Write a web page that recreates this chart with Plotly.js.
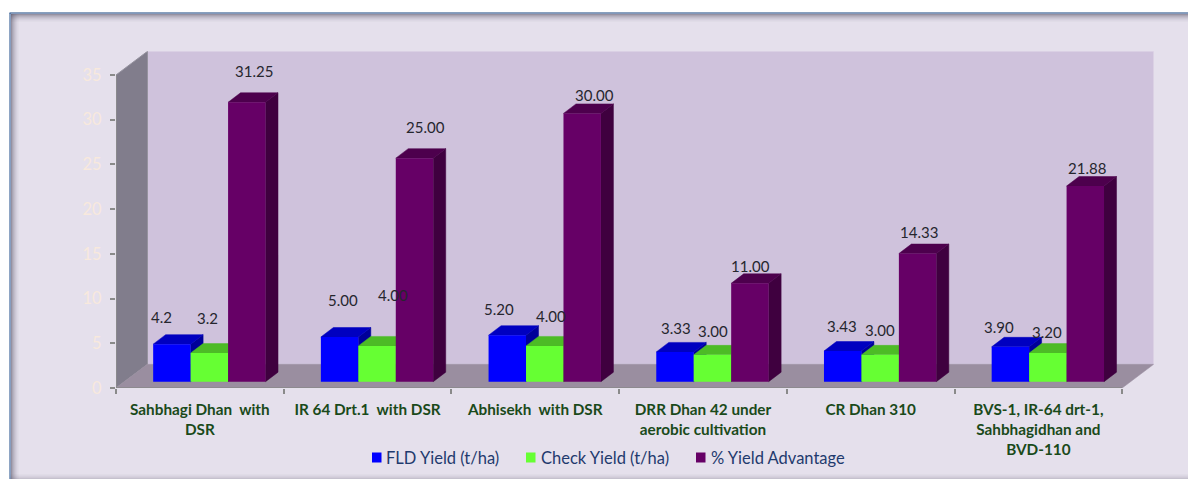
<!DOCTYPE html>
<html>
<head>
<meta charset="utf-8">
<script src="https://cdn.plot.ly/plotly-3.0.1.min.js"></script>
<style>html,body{margin:0;padding:0;background:#fff}#chart{width:1188px;height:479px}</style>
</head>
<body>
<div id="chart"></div>
<script>
// Front-line demonstration results for direct-seeded rice varieties
const categories = [
  'Sahbhagi Dhan\u00a0\u00a0with<br>DSR',
  'IR 64 Drt.1\u00a0\u00a0with DSR',
  'Abhisekh\u00a0\u00a0with DSR',
  'DRR Dhan 42 under<br>aerobic cultivation',
  'CR Dhan 310',
  'BVS-1, IR-64 drt-1,<br>Sahbhagidhan and<br>BVD-110'
];
const fldYield = [4.2, 5.0, 5.2, 3.33, 3.43, 3.9];
const checkYield = [3.2, 4.0, 4.0, 3.0, 3.0, 3.2];
const yieldAdvantage = [31.25, 25.0, 30.0, 11.0, 14.33, 21.88];
const fldLabels = ['4.2', '5.00', '5.20', '3.33', '3.43', '3.90'];
const checkLabels = ['3.2', '4.00', '4.00', '3.00', '3.00', '3.20'];
const advantageLabels = ['31.25', '25.00', '30.00', '11.00', '14.33', '21.88'];
const yTicks = [0, 5, 10, 15, 20, 25, 30, 35];

// Label nudges in pixels, [right, up] from the top centre of each bar
const fldNudge = [[-10,27],[3,37],[-8,26],[1,24],[-1,25],[-11,20]];
const checkNudge = [[-2,35],[16,51],[6,30],[1,24],[0,25],[-1,21]];
const advantageNudge = [[7,31],[11,31],[12,18],[1,17],[1,22],[2,18]];

// Plot scale
const W = 1188, H = 479;
const X0 = 116, Y0 = 388;           // front-left floor corner
const PX_CAT = 167.7, PX_UNIT = 8.943; // pixels per category / per y unit
const WALL_DX = 31.5, WALL_DY = 23.7;  // depth of the box
const BAR_DX = 12.5, BAR_DY = 9.5;     // depth of a bar
const PLANE_DX = 9.5, PLANE_DY = 6.3;  // front plane of the bars inside the box
const BAR_GAP = 0.33;
const N = categories.length;

const xMax = N + WALL_DX / PX_CAT;
const yTop = 35 + WALL_DY / PX_UNIT;
const xDomain = [X0 / W, (X0 + xMax * PX_CAT) / W];
const yDomain = [1 - Y0 / H, 1 - (Y0 - yTop * PX_UNIT) / H];
const planeX = [-PLANE_DX / PX_CAT, xMax - PLANE_DX / PX_CAT];
const planeY = [-PLANE_DY / PX_UNIT, yTop - PLANE_DY / PX_UNIT];

const barW = (1 - BAR_GAP) / 3;
const depthX = BAR_DX / PX_CAT, depthY = BAR_DY / PX_UNIT;

const series = [
  {name: 'FLD Yield (t/ha)', values: fldYield, labels: fldLabels, nudge: fldNudge,
   front: '#0000ff', top: '#0000c0', side: '#000099', keyX: 372, textX: 386},
  {name: 'Check Yield (t/ha)', values: checkYield, labels: checkLabels, nudge: checkNudge,
   front: '#66ff33', top: '#4dbb26', side: '#3d9a1f', keyX: 526, textX: 540.5},
  {name: '% Yield Advantage', values: yieldAdvantage, labels: advantageLabels, nudge: advantageNudge,
   front: '#660066', top: '#4d004d', side: '#3f003f', keyX: 696, textX: 711}
];

// Side and top faces of every bar, drawn behind the front faces
const faceTraces = [];
series.forEach((s, k) => {
  const sx = [], sy = [], tx = [], ty = [];
  s.values.forEach((v, i) => {
    const l = i + 0.5 + (k - 1.5) * barW, r = l + barW;
    sx.push(r, r + depthX, r + depthX, r, r, null);
    sy.push(0, depthY, v + depthY, v, 0, null);
    tx.push(l, l + depthX, r + depthX, r, l, null);
    ty.push(v, v + depthY, v + depthY, v, v, null);
  });
  [[sx, sy, s.side], [tx, ty, s.top]].forEach(([x, y, c]) => faceTraces.push({
    type: 'scatter', mode: 'lines', x, y, xaxis: 'x2', yaxis: 'y2',
    fill: 'toself', fillcolor: c, line: {color: c, width: 0.5},
    showlegend: false, hoverinfo: 'skip'
  }));
});

// Front faces come from the bar traces
const barTraces = series.map(s => ({
  type: 'bar', name: s.name, x: s.values.map((_, i) => i + 0.5), y: s.values,
  xaxis: 'x3', yaxis: 'y3', marker: {color: s.front}, showlegend: false
}));

// Value labels over the bars
const annotations = [];
series.forEach((s, k) => s.values.forEach((v, i) => annotations.push({
  xref: 'x3', yref: 'y3', x: i + 0.5 + (k - 1) * barW, y: v,
  text: s.labels[i], showarrow: false,
  xshift: s.nudge[i][0], yshift: s.nudge[i][1],
  font: {family: 'Lato', size: 15, color: '#26262e'}
})));

// Panel, border and soft inner shading
const px = x => x / W, py = y => 1 - y / H;
const shapes = [{
  type: 'rect', xref: 'paper', yref: 'paper', layer: 'below',
  x0: px(9.5), x1: 1, y0: 0, y1: py(12.5),
  fillcolor: '#e5e0ec', line: {width: 0}
}];
const edge = (x0, y0, x1, y1, color) => shapes.push({
  type: 'line', xref: 'paper', yref: 'paper', layer: 'below',
  x0: px(x0), x1: px(x1), y0: py(y0), y1: py(y1), line: {color, width: 1}
});
[0.55, 0.42, 0.32, 0.24, 0.17, 0.11, 0.06, 0.03].forEach((a, j) => {
  edge(11, 14.5 + j, W, 14.5 + j, `rgba(85,80,100,${a})`);
  edge(11.5 + j, 14, 11.5 + j, H, `rgba(85,80,100,${a})`);
});
[0.22, 0.15, 0.1, 0.06, 0.03].forEach((a, j) => edge(10, H - 0.5 - j, W, H - 0.5 - j, `rgba(85,80,100,${a})`));
edge(9.5, 13, W, 13, '#1f4e85');
edge(10, 13, 10, H, '#2b5a92');

// Box of the chart: back wall, left wall, floor and axis lines
const wallX = WALL_DX / PX_CAT, wallY = WALL_DY / PX_UNIT;
const box = (path, fill, line) => shapes.push({
  type: 'path', xref: 'x', yref: 'y', layer: 'below', path,
  fillcolor: fill, line
});
box(`M${wallX},${wallY} L${xMax},${wallY} L${xMax},${yTop} L${wallX},${yTop} Z`, '#cfc2dc', {color: '#dbd2e5', width: 1});
box(`M0,0 L${wallX},${wallY} L${wallX},${yTop} L0,35 Z`, '#817d8c', {color: '#96939f', width: 1});
box(`M0,0 L${wallX},${wallY} L${xMax},${wallY} L${N},0 Z`, '#9a8ea0', {color: '#9a8ea0', width: 0.5});
box(`M0,0 L${N},0`, 'rgba(0,0,0,0)', {color: '#8a8a8a', width: 1.5});
box(`M0,0 L0,35`, 'rgba(0,0,0,0)', {color: '#8a8a8a', width: 1.5});

// Legend row: colour key and series name
const legendY = 457.5;
series.forEach(s => {
  shapes.push({
    type: 'rect', xref: 'paper', yref: 'paper', layer: 'above',
    x0: px(s.keyX), x1: px(s.keyX + 9.5), y0: py(legendY + 5), y1: py(legendY - 5),
    fillcolor: s.front, line: {width: 0}
  });
  annotations.push({
    xref: 'paper', yref: 'paper', x: px(s.textX), y: py(legendY), xanchor: 'left', yanchor: 'middle',
    text: s.name, showarrow: false, xshift: -2,
    font: {family: 'Lato', size: 16.5, color: '#1f3a6e'}
  });
});

const layout = {
  width: W, height: H,
  margin: {l: 0, r: 0, t: 0, b: 0, pad: 0},
  paper_bgcolor: '#ffffff', plot_bgcolor: 'rgba(0,0,0,0)',
  barmode: 'group', bargap: BAR_GAP, bargroupgap: 0,
  font: {family: 'Lato'},
  showlegend: false,
  xaxis: {
    domain: xDomain, range: [0, xMax], showgrid: false, zeroline: false, showline: false,
    tickmode: 'array', tickvals: categories.map((_, i) => i + 0.5), ticktext: categories,
    ticks: '', ticklabelstandoff: 11,
    tickfont: {family: 'Lato', size: 15.3, color: '#1a4a1a', weight: 'bold'},
    minor: {tickmode: 'array', tickvals: Array.from({length: N + 1}, (_, i) => i), ticks: 'outside', ticklen: 5, tickwidth: 1.5, tickcolor: '#8a8a8a', showgrid: false}
  },
  yaxis: {
    domain: yDomain, range: [0, yTop], showgrid: false, zeroline: false, showline: false,
    tickmode: 'array', tickvals: yTicks, ticks: 'outside', ticklen: 5, tickwidth: 1.5,
    tickcolor: '#8a8a8a', ticklabelstandoff: 5,
    tickfont: {family: 'Lato', size: 16.5, color: '#f8e9dd'}
  },
  xaxis2: {overlaying: 'x', domain: xDomain, range: planeX, visible: false, anchor: 'y2'},
  yaxis2: {overlaying: 'y', domain: yDomain, range: planeY, visible: false, anchor: 'x2'},
  xaxis3: {overlaying: 'x', domain: xDomain, range: planeX, visible: false, anchor: 'y3'},
  yaxis3: {overlaying: 'y', domain: yDomain, range: planeY, visible: false, anchor: 'x3'},
  shapes, annotations
};

Plotly.newPlot('chart', faceTraces.concat(barTraces), layout, {displayModeBar: false, responsive: false});
</script>
</body>
</html>
